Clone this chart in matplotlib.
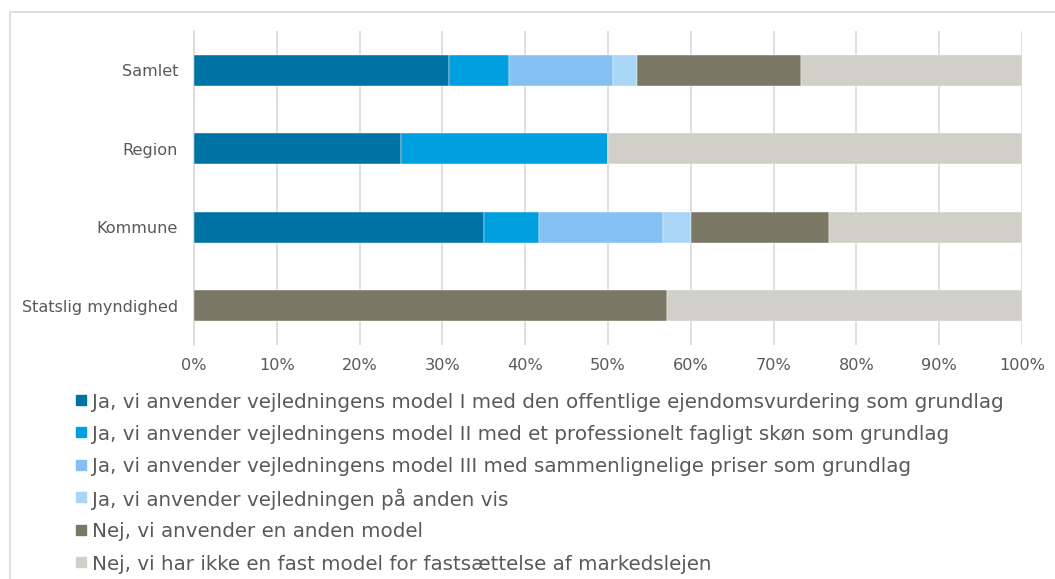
import matplotlib.pyplot as plt
from matplotlib.patches import Rectangle
import numpy as np

categories = ["Samlet", "Region", "Kommune", "Statslig myndighed"]
series_names = [
    "Ja, vi anvender vejledningens model I med den offentlige ejendomsvurdering som grundlag",
    "Ja, vi anvender vejledningens model II med et professionelt fagligt skøn som grundlag",
    "Ja, vi anvender vejledningens model III med sammenlignelige priser som grundlag",
    "Ja, vi anvender vejledningen på anden vis",
    "Nej, vi anvender en anden model",
    "Nej, vi har ikke en fast model for fastsættelse af markedslejen",
]
# share in percent, one list per series, same order as categories
model_1 = [30.8, 25.0, 35.0, 0.0]
model_2 = [7.2, 25.0, 6.7, 0.0]
model_3 = [12.6, 0.0, 15.0, 0.0]
other_way = [2.9, 0.0, 3.3, 0.0]
other_model = [19.8, 0.0, 16.7, 57.1]
no_model = [26.7, 50.0, 23.3, 42.9]
colors = ["#0073a5", "#009fe0", "#84c1f2", "#a9d5f6", "#7a7865", "#d0d0c8"]
x_ticks = [0, 10, 20, 30, 40, 50, 60, 70, 80, 90, 100]

W, H = 1055, 579
plt.rcParams['font.family'] = ['DejaVu Sans']
fig = plt.figure(figsize=(W / 100, H / 100), dpi=100)
text_col = "#595959"

# outer chart frame (cropped on the right and bottom in the reference)
fig.patches.append(Rectangle((10 / W, -0.1), 1.2, 1 - 12 / H + 0.1,
                             transform=fig.transFigure, fill=False,
                             edgecolor="#d9d9d9", linewidth=1.2))

ax = fig.add_axes([194 / W, 1 - 345 / H, (1022 - 194) / W, (345 - 31) / H])

values = [model_1, model_2, model_3, other_way, other_model, no_model]
y = np.arange(len(categories))
left = np.zeros(len(categories))
for name, vals, c in zip(series_names, values, colors):
    ax.barh(y, vals, left=left, height=0.395, color=c, label=name,
            edgecolor="white", linewidth=0.3, zorder=3)
    left += np.array(vals)

ax.set_ylim(len(categories) - 0.5, -0.5)
ax.set_xlim(0, 100)
ax.set_xticks(x_ticks)
ax.set_xticklabels([f"{t}%" for t in x_ticks])
ax.set_yticks(y)
ax.set_yticklabels(categories)
ax.tick_params(axis="both", length=0, labelsize=11.6, colors=text_col)
ax.tick_params(axis="y", pad=11.5)
ax.tick_params(axis="x", pad=9)
ax.grid(axis="x", color="#d9d9d9", linewidth=1.2, zorder=0)
for s in ["top", "right", "bottom"]:
    ax.spines[s].set_visible(False)
ax.spines["left"].set_color("#d9d9d9")
ax.spines["left"].set_linewidth(1.2)

# legend drawn row by row so the spacing stays even
for i, (name, c) in enumerate(zip(series_names, colors)):
    yc = 1 - (400 + 32.4 * i) / H
    fig.patches.append(Rectangle((76 / W, yc - 5 / H), 10 / W, 10 / H,
                                 transform=fig.transFigure, color=c))
    fig.text(92 / W, yc, name, fontsize=14.3, color=text_col,
             va="center_baseline", ha="left")

fig.savefig("out.png", dpi=100)
